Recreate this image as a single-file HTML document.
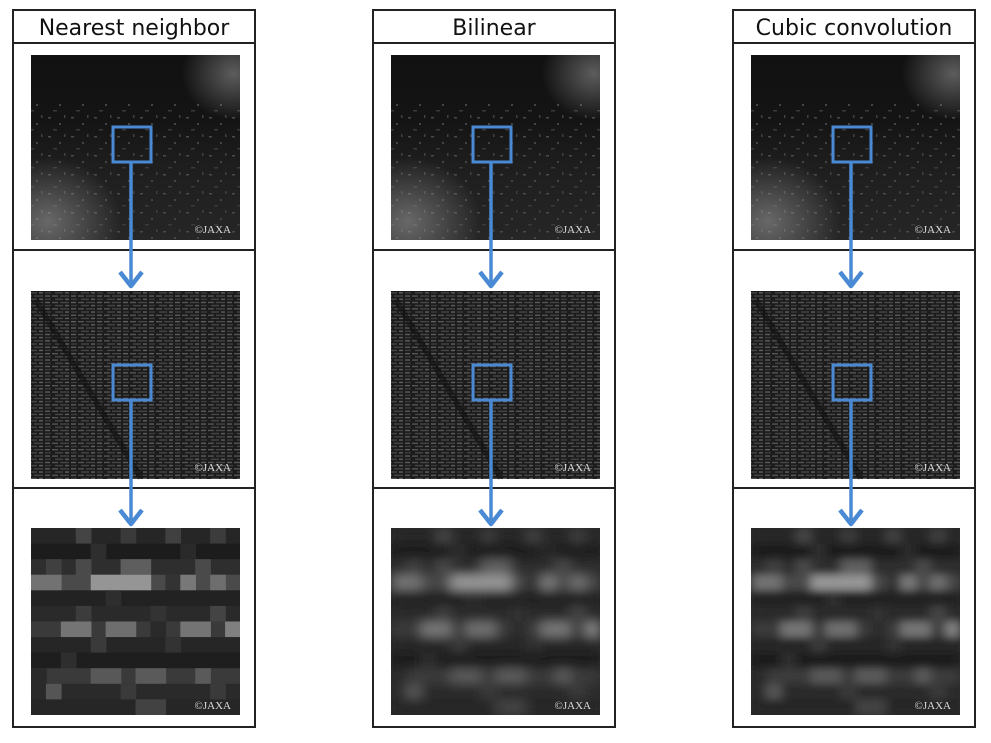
<!DOCTYPE html>
<html><head><meta charset="utf-8"><style>
html,body{margin:0;padding:0;background:#fff;}
svg{display:block}
</style></head><body>
<svg width="991" height="743" viewBox="0 0 991 743" xmlns="http://www.w3.org/2000/svg">
<defs>
<filter id="bl" x="-5%" y="-5%" width="110%" height="110%"><feGaussianBlur stdDeviation="6 5"/></filter>
<filter id="bc" x="-5%" y="-5%" width="110%" height="110%"><feGaussianBlur stdDeviation="5 4"/></filter>
<pattern id="pt" width="23" height="19" patternUnits="userSpaceOnUse">
<rect x="2" y="3" width="3" height="1.5" fill="#4a4a4a"/><rect x="13" y="9" width="2" height="2" fill="#444"/><rect x="7" y="15" width="4" height="1.5" fill="#3a3a3a"/><rect x="18" y="1" width="1.5" height="3" fill="#404040"/>
</pattern>
<pattern id="pm" width="26" height="6.4" patternUnits="userSpaceOnUse">
<rect x="0" y="1" width="6" height="1.3" fill="#8a8a8a"/><rect x="8" y="1" width="9" height="1.3" fill="#6a6a6a"/><rect x="19" y="1" width="5" height="1.3" fill="#9a9a9a"/>
<rect x="3" y="4.2" width="8" height="1.3" fill="#6e6e6e"/><rect x="13" y="4.2" width="4" height="1.3" fill="#a0a0a0"/><rect x="19" y="4.2" width="6" height="1.3" fill="#5e5e5e"/>
</pattern>
<radialGradient id="gbl" cx="0.08" cy="0.9" r="0.35"><stop offset="0" stop-color="#bbb" stop-opacity=".45"/><stop offset="1" stop-color="#bbb" stop-opacity="0"/></radialGradient>
<radialGradient id="gtr" cx="0.97" cy="0.1" r="0.25"><stop offset="0" stop-color="#ccc" stop-opacity=".4"/><stop offset="1" stop-color="#ccc" stop-opacity="0"/></radialGradient>
<linearGradient id="gtop" x1="0" y1="0" x2="0" y2="1"><stop offset="0" stop-color="#111"/><stop offset="0.35" stop-color="#141414"/><stop offset="0.6" stop-color="#1e1e1e"/><stop offset="1" stop-color="#262626"/></linearGradient>
<g id="grid" transform="translate(31,528) scale(14.93,15.58)">
<rect x="0" y="0" width="14" height="1.05" fill="#262626"/><rect x="3" y="0" width="1.05" height="1.05" fill="#444"/><rect x="6" y="0" width="1.05" height="1.05" fill="#3a3a3a"/><rect x="9" y="0" width="1.05" height="1.05" fill="#404040"/><rect x="12" y="0" width="1.05" height="1.05" fill="#3c3c3c"/>
<rect x="0" y="1" width="14" height="1.05" fill="#1c1c1c"/><rect x="4" y="1" width="1.05" height="1.05" fill="#2e2e2e"/><rect x="10" y="1" width="1.05" height="1.05" fill="#2a2a2a"/>
<rect x="0" y="2" width="14" height="1.05" fill="#2e2e2e"/><rect x="1" y="2" width="1.05" height="1.05" fill="#404040"/><rect x="3" y="2" width="1.05" height="1.05" fill="#4a4a4a"/><rect x="6" y="2" width="2.05" height="1.05" fill="#5e5e5e"/><rect x="11" y="2" width="1.05" height="1.05" fill="#4a4a4a"/>
<rect x="0" y="3" width="14" height="1.05" fill="#4a4a4a"/><rect x="0" y="3" width="2.05" height="1.05" fill="#727272"/><rect x="4" y="3" width="4.05" height="1.05" fill="#959595"/><rect x="9" y="3" width="1.05" height="1.05" fill="#333"/><rect x="10" y="3" width="1.05" height="1.05" fill="#787878"/><rect x="12" y="3" width="1.05" height="1.05" fill="#6e6e6e"/>
<rect x="0" y="4" width="14" height="1.05" fill="#222"/><rect x="5" y="4" width="1.05" height="1.05" fill="#2e2e2e"/>
<rect x="0" y="5" width="14" height="1.05" fill="#2a2a2a"/><rect x="3" y="5" width="1.05" height="1.05" fill="#3c3c3c"/><rect x="8" y="5" width="1.05" height="1.05" fill="#333"/><rect x="12" y="5" width="1.05" height="1.05" fill="#444"/>
<rect x="0" y="6" width="14" height="1.05" fill="#3a3a3a"/><rect x="2" y="6" width="2.05" height="1.05" fill="#747474"/><rect x="5" y="6" width="2.05" height="1.05" fill="#6e6e6e"/><rect x="8" y="6" width="1.05" height="1.05" fill="#2a2a2a"/><rect x="10" y="6" width="2.05" height="1.05" fill="#747474"/><rect x="13" y="6" width="1.05" height="1.05" fill="#808080"/>
<rect x="0" y="7" width="14" height="1.05" fill="#262626"/><rect x="4" y="7" width="1.05" height="1.05" fill="#3a3a3a"/><rect x="9" y="7" width="1.05" height="1.05" fill="#333"/>
<rect x="0" y="8" width="14" height="1.05" fill="#1e1e1e"/><rect x="2" y="8" width="1.05" height="1.05" fill="#2e2e2e"/>
<rect x="0" y="9" width="14" height="1.05" fill="#3a3a3a"/><rect x="0" y="9" width="1.05" height="1.05" fill="#2a2a2a"/><rect x="4" y="9" width="2.05" height="1.05" fill="#585858"/><rect x="7" y="9" width="2.05" height="1.05" fill="#5a5a5a"/><rect x="11" y="9" width="1.05" height="1.05" fill="#5a5a5a"/>
<rect x="0" y="10" width="14" height="1.05" fill="#2a2a2a"/><rect x="1" y="10" width="1.05" height="1.05" fill="#555"/><rect x="6" y="10" width="1.05" height="1.05" fill="#3a3a3a"/><rect x="12" y="10" width="1.05" height="1.05" fill="#3a3a3a"/>
<rect x="0" y="11" width="14" height="1.05" fill="#262626"/><rect x="7" y="11" width="2.05" height="1.05" fill="#424242"/>
</g>
<clipPath id="ca"><rect x="31" y="528" width="209" height="187"/></clipPath>
<g id="col">
<rect x="31" y="55" width="209" height="185" fill="url(#gtop)"/>
<rect x="31" y="100" width="209" height="140" fill="url(#pt)"/>
<rect x="31" y="55" width="209" height="185" fill="url(#gbl)"/>
<rect x="31" y="55" width="209" height="185" fill="url(#gtr)"/>
<text x="231" y="233" font-family="Liberation Serif,serif" font-size="11" fill="#ddd" text-anchor="end">©JAXA</text>
<rect x="31" y="291" width="209" height="188" fill="#1c1c1c"/>
<rect x="31" y="291" width="209" height="188" fill="url(#pm)" opacity=".55"/>
<line x1="36" y1="300" x2="141" y2="478" stroke="#111" stroke-width="6" opacity=".6"/>
<text x="231" y="471" font-family="Liberation Serif,serif" font-size="11" fill="#ddd" text-anchor="end">©JAXA</text>
<rect x="13" y="10" width="242" height="717" fill="none" stroke="#222" stroke-width="2"/>
<line x1="13" y1="43" x2="255" y2="43" stroke="#222" stroke-width="2"/>
<line x1="13" y1="250" x2="255" y2="250" stroke="#222" stroke-width="2"/>
<line x1="13" y1="488" x2="255" y2="488" stroke="#222" stroke-width="2"/>
<rect x="113" y="127" width="38" height="35" fill="none" stroke="#4a8ad4" stroke-width="3"/>
<rect x="113" y="365" width="38" height="35" fill="none" stroke="#4a8ad4" stroke-width="3"/>
<line x1="131" y1="162" x2="131" y2="284" stroke="#4a8ad4" stroke-width="3.5"/>
<polyline points="120,272 131,286 142,272" fill="none" stroke="#4a8ad4" stroke-width="4.5" stroke-linejoin="round"/>
<line x1="131" y1="400" x2="131" y2="522" stroke="#4a8ad4" stroke-width="3.5"/>
<polyline points="120,510 131,524 142,510" fill="none" stroke="#4a8ad4" stroke-width="4.5" stroke-linejoin="round"/>
</g>
</defs>

<g clip-path="url(#ca)"><use href="#grid"/></g>
<g transform="translate(360,0)"><g clip-path="url(#ca)"><rect x="31" y="528" width="209" height="187" fill="#2a2a2a"/><g filter="url(#bl)"><use href="#grid"/></g></g></g>
<g transform="translate(720,0)"><g clip-path="url(#ca)"><rect x="31" y="528" width="209" height="187" fill="#2a2a2a"/><g filter="url(#bc)"><use href="#grid"/></g></g></g>

<use href="#col"/>
<use href="#col" transform="translate(360,0)"/>
<use href="#col" transform="translate(720,0)"/>

<text x="231" y="709" font-family="Liberation Serif,serif" font-size="11" fill="#ddd" text-anchor="end">©JAXA</text>
<text x="591" y="709" font-family="Liberation Serif,serif" font-size="11" fill="#ddd" text-anchor="end">©JAXA</text>
<text x="951" y="709" font-family="Liberation Serif,serif" font-size="11" fill="#ddd" text-anchor="end">©JAXA</text>

<text x="134" y="35" font-family="DejaVu Sans,Liberation Sans,sans-serif" font-size="22" fill="#111" text-anchor="middle">Nearest neighbor</text>
<text x="494" y="35" font-family="DejaVu Sans,Liberation Sans,sans-serif" font-size="22" fill="#111" text-anchor="middle">Bilinear</text>
<text x="854" y="35" font-family="DejaVu Sans,Liberation Sans,sans-serif" font-size="22" fill="#111" text-anchor="middle">Cubic convolution</text>
</svg>
</body></html>
